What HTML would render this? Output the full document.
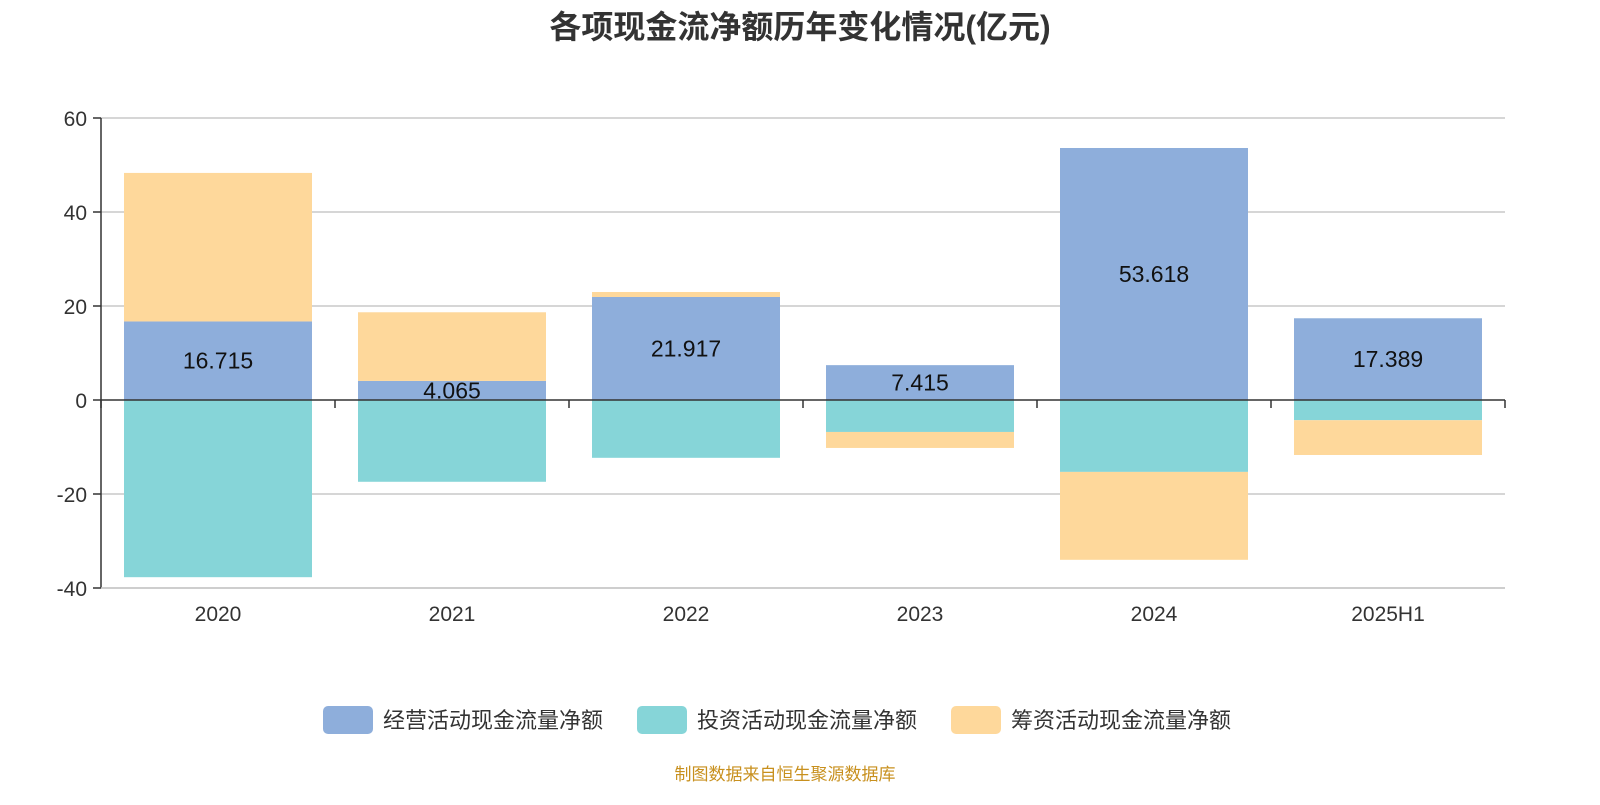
<!DOCTYPE html>
<html><head><meta charset="utf-8"><style>
body{margin:0;background:#fff;font-family:"Liberation Sans","Noto Sans CJK SC",sans-serif}
</style></head><body>
<svg id="c" width="1600" height="800" xmlns="http://www.w3.org/2000/svg"></svg>
<script>
const categories=["2020","2021","2022","2023","2024","2025H1"];
const operating=[16.715,4.065,21.917,7.415,53.618,17.389];
const investing=[-37.7,-17.4,-12.3,-6.8,-15.3,-4.3];
const financing=[31.6,14.6,1.06,-3.4,-18.7,-7.4];
const yTicks=[60,40,20,0,-20,-40];
const seriesNames=["经营活动现金流量净额","投资活动现金流量净额","筹资活动现金流量净额"];
const colors=["#8eaedb","#86d5d8","#fed89b"];
const F='"Liberation Sans","Noto Sans CJK SC",sans-serif';
const svg=document.getElementById('c');
const NS='http://www.w3.org/2000/svg';
function mk(t,a,txt){const e=document.createElementNS(NS,t);for(const k in a)e.setAttribute(k,a[k]);if(txt!=null)e.textContent=txt;svg.appendChild(e);return e;}
const x0=101,x1=1505,yTop=118,yBot=588,vMax=60,vMin=-40;
function y(v){return yTop+(vMax-v)/(vMax-vMin)*(yBot-yTop);}
const band=(x1-x0)/categories.length,bw=188;
function xc(i){return x0+band*(i+0.5);}
let e=mk('text',{x:800,y:38,'text-anchor':'middle','font-size':32,'font-weight':'bold',fill:'#333','font-family':F},'各项现金流净额历年变化情况(亿元)');

yTicks.forEach(t=>{
 if(t!==0){const g=mk('line',{x1:x0,x2:x1,y1:y(t),y2:y(t),stroke:'#c8c8c8','stroke-width':1.5});}
 const tk=mk('line',{x1:x0-8,x2:x0,y1:y(t),y2:y(t),stroke:'#333','stroke-width':1.5});
 const l=mk('text',{x:x0-14,y:y(t)+8,'text-anchor':'end','font-size':21,fill:'#333','font-family':F},t);
});
const ya=mk('line',{x1:x0,x2:x0,y1:yTop,y2:yBot,stroke:'#333','stroke-width':1.5});
const series=[operating,investing,financing];
categories.forEach((c,i)=>{
 let pos=0,neg=0;
 series.forEach((s,k)=>{
  const v=s[i];let a,b;
  if(v>=0){a=pos;b=pos+v;pos=b;}else{a=neg;b=neg+v;neg=b;}
  const r=mk('rect',{x:xc(i)-bw/2,y:Math.min(y(a),y(b)),width:bw,height:Math.abs(y(a)-y(b)),fill:colors[k]});
  
 });
 const v=operating[i];
 const t=mk('text',{x:xc(i),y:(y(0)+y(v))/2+8,'text-anchor':'middle','font-size':23,fill:'#111','font-family':F},v.toFixed(3));
 
 const xl=mk('text',{x:xc(i),y:621,'text-anchor':'middle','font-size':21,fill:'#333','font-family':F},c);
 
});
const xa=mk('line',{x1:x0,x2:x1,y1:y(0),y2:y(0),stroke:'#333','stroke-width':1.5});
const xb=mk('line',{x1:x0,x2:x1,y1:yBot,y2:yBot,stroke:'#c8c8c8','stroke-width':1.5});
for(let i=0;i<=categories.length;i++){const tk=mk('line',{x1:x0+band*i,x2:x0+band*i,y1:y(0),y2:y(0)+8,stroke:'#333','stroke-width':1.5});}
const lx=[323,637,951];
seriesNames.forEach((n,k)=>{
 const r=mk('rect',{x:lx[k],y:706,width:50,height:28,rx:5,fill:colors[k]});
 const t=mk('text',{x:lx[k]+60,y:728,'font-size':22,fill:'#333','font-family':F},n);
});
const s=mk('text',{x:785,y:780,'text-anchor':'middle','font-size':17,fill:'#c8901e','font-family':F},'制图数据来自恒生聚源数据库');

</script>
</body></html>
